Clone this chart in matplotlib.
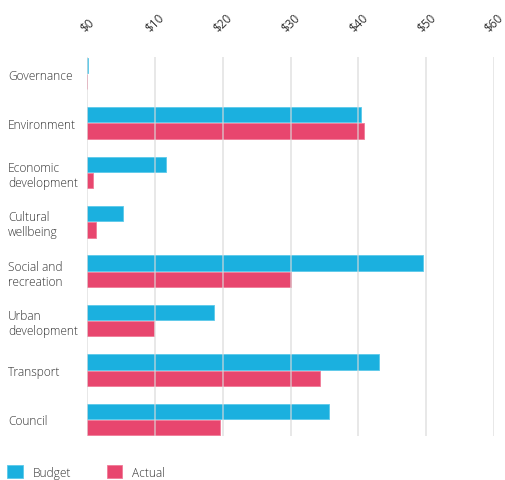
import matplotlib
matplotlib.use('Agg')
import matplotlib.pyplot as plt
from matplotlib.patches import Patch
import numpy as np

plt.rcParams['font.family'] = ['Open Sans', 'DejaVu Sans']

# spending by category, $
categories = ['Governance', 'Environment', 'Economic\ndevelopment', 'Cultural\nwellbeing',
              'Social and\nrecreation', 'Urban\ndevelopment', 'Transport', 'Council']
budget = [0.2, 40.4, 11.7, 5.3, 49.6, 18.7, 43.1, 35.7]
actual = [0.0, 40.9, 0.9, 1.3, 30.1, 9.9, 34.4, 19.6]
xticks = [0, 10, 20, 30, 40, 50, 60]
xtick_labels = ['$0', '$10', '$20', '$30', '$40', '$50', '$60']

BLUE = '#1BB0DF'
RED = '#E8466E'
TEXT = '#333333'

fig = plt.figure(figsize=(5.06, 4.81), dpi=100)
W, H = 506, 481
ax = fig.add_axes([87 / W, 1 - 437 / H, (494 - 87) / W, (437 - 58) / H])

y = np.arange(len(categories))
h = 0.31
ax.barh(y - h / 2 - 0.01, budget, height=h, color=BLUE, edgecolor='#5cc9ea',
        linewidth=0.6, zorder=2)
ax.barh(y + h / 2 + 0.01, actual, height=h, color=RED, edgecolor='#f07b98',
        linewidth=0.6, zorder=2)

ax.set_xlim(0, 60)
ax.set_ylim(len(categories) - 1 + 0.335, -0.335)

# light vertical gridlines drawn over the bars
for xv in xticks:
    ax.axvline(xv, color='#d9d9d9', lw=1.4, alpha=0.6, zorder=3)

ax.xaxis.tick_top()
ax.set_xticks(xticks)
ax.set_xticklabels(xtick_labels, rotation=45, fontsize=8.5, color=TEXT)
ax.tick_params(axis='x', length=0, pad=17)

ax.set_yticks(y)
ax.set_yticklabels(categories, fontsize=8.6, color=TEXT, ha='left',
                   fontweight='light', linespacing=1.2)
ax.tick_params(axis='y', length=0, pad=57)

for s in ax.spines.values():
    s.set_visible(False)

handles = [Patch(facecolor=BLUE, edgecolor='#5cc9ea', lw=0.6, label='Budget'),
           Patch(facecolor=RED, edgecolor='#f07b98', lw=0.6, label='Actual')]
leg = fig.legend(handles=handles, loc='center left', bbox_to_anchor=(8 / W - 0.001, 1 - 473 / H),
                 ncol=2, frameon=False, fontsize=8.6, handlelength=1.3,
                 handleheight=1.3, handletextpad=0.8, columnspacing=3.0,
                 borderpad=0, borderaxespad=0)
for t in leg.get_texts():
    t.set_color(TEXT)
    t.set_fontweight('light')

fig.savefig('out.png', dpi=100)
